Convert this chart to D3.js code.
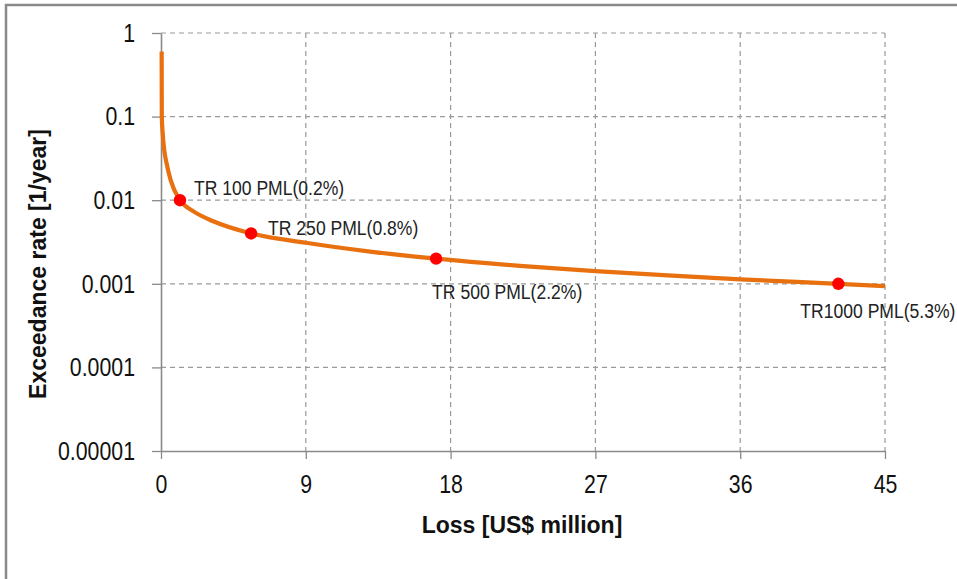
<!DOCTYPE html>
<html>
<head>
<meta charset="utf-8">
<script src="https://cdn.jsdelivr.net/npm/d3@7"></script>
<style>
  html, body { margin: 0; padding: 0; background: #fff; }
  svg { display: block; }
  text { font-family: "Liberation Sans", Arial, sans-serif; }
</style>
</head>
<body>
<svg id="chart" width="957" height="579"></svg>
<script>
// Exceedance-rate curve (loss in US$ million vs annual exceedance rate)
const curveLoss = [0.04, 0.05, 0.1, 0.2, 0.35, 0.6, 1.18, 2, 3.25, 5.6, 9, 13, 17.1, 22.3, 27, 31.5, 36, 42.1, 45];
const curveRate = [0.6, 0.1, 0.065, 0.04, 0.0275, 0.0174, 0.01, 0.0074, 0.0056, 0.004, 0.0031, 0.00243, 0.002, 0.00164, 0.00142, 0.00126, 0.00113, 0.001, 0.00094];

// Return-period markers
const pmlLabels = ["TR 100 PML(0.2%)", "TR 250 PML(0.8%)", "TR 500 PML(2.2%)", "TR1000 PML(5.3%)"];
const pmlLoss = [1.18, 5.6, 17.1, 42.1];
const pmlRate = [0.01, 0.004, 0.002, 0.001];

// Axis ticks
const xTicks = [0, 9, 18, 27, 36, 45];
const yTicks = [0.00001, 0.0001, 0.001, 0.01, 0.1, 1];
const yTickLabels = ["0.00001", "0.0001", "0.001", "0.01", "0.1", "1"];

// Label placement relative to each marker (dx, dy to text baseline start)
const labelOffsets = [[14, -5], [17, 2], [-4, 40], [-38, 34]];

const svg = d3.select("#chart");
const plotLeft = 161, plotRight = 885, plotTop = 33, plotBottom = 451;

const x = d3.scaleLinear().domain([0, 45]).range([plotLeft, plotRight]);
const y = d3.scaleLog().domain([0.00001, 1]).range([plotBottom, plotTop]);

// Outer chart frame (left and top edges visible)
svg.append("rect")
  .attr("x", 6).attr("y", 5)
  .attr("width", 1000).attr("height", 640)
  .attr("fill", "#fff")
  .attr("stroke", "#8a8a8a")
  .attr("stroke-width", 2.5);

// Grid
const grid = svg.append("g").attr("stroke", "#9a9a9a").attr("stroke-width", 1.2)
  .attr("stroke-dasharray", "5,4");
grid.selectAll("line.h").data(yTicks.slice(1)).join("line")
  .attr("class", "h")
  .attr("x1", plotLeft).attr("x2", plotRight)
  .attr("y1", d => y(d)).attr("y2", d => y(d));
grid.selectAll("line.v").data(xTicks.slice(1)).join("line")
  .attr("class", "v")
  .attr("x1", d => x(d)).attr("x2", d => x(d))
  .attr("y1", plotTop).attr("y2", plotBottom);

const tickSX = 0.82;

// Y axis
const yAxis = d3.axisLeft(y)
  .tickValues(yTicks)
  .tickFormat((d, i) => yTickLabels[i])
  .tickSize(9).tickSizeOuter(0).tickPadding(17);
const gy = svg.append("g").attr("transform", `translate(${plotLeft},0)`).call(yAxis);
gy.select(".domain").attr("stroke", "#8a8a8a").attr("stroke-width", 1.6);
gy.selectAll(".tick line").attr("stroke", "#8a8a8a").attr("stroke-width", 1.3);
gy.selectAll(".tick text")
  .attr("font-size", 26).attr("fill", "#111")
  .attr("font-family", "'Liberation Sans', Arial, sans-serif")
  .attr("x", -26 / tickSX)
  .attr("transform", `scale(${tickSX},1)`);

// X axis
const xAxis = d3.axisBottom(x)
  .tickValues(xTicks)
  .tickFormat(d3.format("d"))
  .tickSize(8).tickSizeOuter(0).tickPadding(16);
const gx = svg.append("g").attr("transform", `translate(0,${plotBottom})`).call(xAxis);
gx.select(".domain").attr("stroke", "#8a8a8a").attr("stroke-width", 1.6);
gx.selectAll(".tick line").attr("stroke", "#8a8a8a").attr("stroke-width", 1.3);
gx.selectAll(".tick text")
  .attr("font-size", 26).attr("fill", "#111")
  .attr("font-family", "'Liberation Sans', Arial, sans-serif")
  .attr("transform", `scale(${tickSX},1)`);

// Axis titles
svg.append("text")
  .attr("transform", "translate(46,264) rotate(-90)")
  .attr("text-anchor", "middle")
  .attr("font-size", 23).attr("font-weight", "bold").attr("fill", "#111")
  .text("Exceedance rate [1/year]");

svg.append("text")
  .attr("x", 522).attr("y", 533)
  .attr("text-anchor", "middle")
  .attr("font-size", 23).attr("font-weight", "bold").attr("fill", "#111")
  .text("Loss [US$ million]");

// Curve
const curveData = curveLoss.map((d, i) => [d, curveRate[i]]);
const line = d3.line()
  .x(d => x(d[0])).y(d => y(d[1]))
  .curve(d3.curveMonotoneX);
svg.append("path")
  .datum(curveData)
  .attr("d", line)
  .attr("fill", "none")
  .attr("stroke", "#E8700F")
  .attr("stroke-width", 4.2)
  .attr("stroke-linecap", "butt");

// Markers
const pml = pmlLoss.map((d, i) => ({ loss: d, rate: pmlRate[i], label: pmlLabels[i], off: labelOffsets[i] }));
svg.selectAll("circle.pml").data(pml).join("circle")
  .attr("class", "pml")
  .attr("cx", d => x(d.loss)).attr("cy", d => y(d.rate))
  .attr("r", 6.2)
  .attr("fill", "#FF0000");

// Marker labels
const labelSX = 0.9;
svg.selectAll("g.pml-label").data(pml).join("g")
  .attr("class", "pml-label")
  .attr("transform", d => `translate(${x(d.loss) + d.off[0]},${y(d.rate) + d.off[1]}) scale(${labelSX},1)`)
  .append("text")
  .attr("font-size", 19.5).attr("fill", "#222")
  .text(d => d.label);
</script>
</body>
</html>
